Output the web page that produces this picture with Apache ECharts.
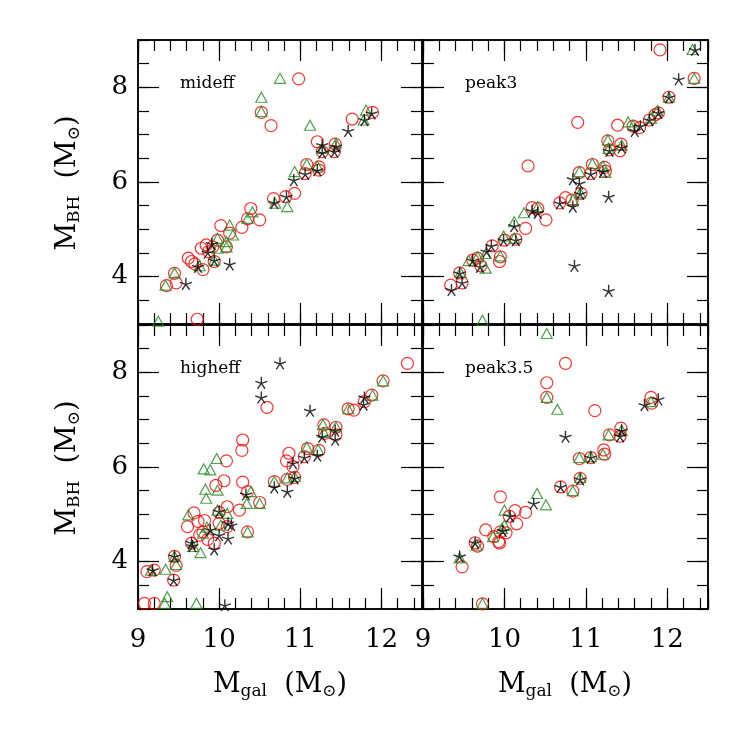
<!DOCTYPE html>
<html>
<head>
<meta charset="utf-8">
<script src="https://cdn.jsdelivr.net/npm/echarts@6/dist/echarts.min.js"></script>
<style>
  html, body { margin: 0; background: #fff; }
  #chart { width: 747px; height: 747px; }
</style>
</head>
<body>
<div id="chart"></div>
<script>
// panel names, tick labels
const panelNames = ['mideff', 'peak3', 'higheff', 'peak3.5'];
const xTickValues = [9, 10, 11, 12];
const yTickValues = [4, 6, 8];

// [log Mgal, log MBH]
const midCircles = [[10.98,8.18],[10.52,7.47],[10.64,7.19],[11.64,7.33],[11.89,7.47],[11.21,6.85],[11.27,6.64],[11.43,6.80],[11.42,6.64],[11.08,6.37],[11.06,6.18],[11.23,6.32],[11.23,6.25],[10.93,5.76],[10.82,5.69],[10.67,5.65],[10.39,5.44],[10.35,5.22],[10.50,5.20],[10.28,5.04],[10.02,5.08],[10.13,4.92],[9.98,4.77],[9.84,4.67],[9.78,4.60],[9.87,4.53],[9.92,4.63],[9.62,4.39],[9.66,4.32],[9.70,4.27],[9.80,4.15],[9.94,4.32],[9.45,4.07],[9.47,3.87],[9.35,3.81],[9.73,3.10],[10.09,4.63]];
const midTriangles = [[10.75,8.19],[10.52,7.79],[10.52,7.49],[11.12,7.20],[11.81,7.52],[11.78,7.31],[11.27,6.71],[11.44,6.82],[10.93,6.22],[11.08,6.38],[11.21,6.34],[10.84,5.48],[10.69,5.55],[10.41,5.37],[10.35,5.23],[10.13,5.09],[10.17,4.88],[10.09,4.74],[9.98,4.81],[9.98,4.60],[10.09,4.63],[9.94,4.35],[9.76,4.23],[9.45,4.08],[9.34,3.82],[9.25,3.06]];
const midStars = [[11.88,7.45],[11.79,7.31],[11.59,7.08],[11.27,6.78],[11.27,6.62],[11.42,6.64],[11.44,6.75],[11.06,6.17],[11.21,6.25],[10.92,6.04],[10.83,5.69],[10.68,5.56],[9.91,4.69],[9.86,4.51],[9.94,4.34],[9.74,4.21],[10.13,4.26],[9.59,3.85]];

const peak3Circles = [[11.91,8.79],[12.33,8.19],[12.02,7.79],[11.89,7.46],[11.85,7.42],[11.78,7.31],[11.66,7.15],[11.58,7.18],[11.39,7.20],[10.90,7.26],[11.27,6.87],[11.29,6.68],[11.43,6.80],[11.42,6.66],[11.08,6.37],[11.06,6.18],[11.23,6.31],[11.24,6.23],[10.92,6.20],[10.94,5.76],[10.83,5.62],[10.75,5.67],[10.68,5.56],[10.29,6.34],[10.34,5.46],[10.41,5.44],[10.51,5.20],[10.26,5.02],[10.14,4.79],[10.00,4.77],[9.85,4.65],[9.95,4.42],[9.94,4.32],[9.67,4.39],[9.61,4.35],[9.71,4.23],[9.45,4.08],[9.48,3.87],[9.34,3.82]];
const peak3Triangles = [[12.31,8.80],[12.33,8.19],[12.02,7.79],[11.88,7.51],[11.80,7.35],[11.52,7.27],[11.58,7.20],[11.27,6.89],[11.28,6.71],[11.44,6.78],[11.08,6.39],[11.21,6.34],[11.24,6.20],[10.92,6.22],[10.93,5.77],[10.84,5.63],[10.41,5.48],[10.24,5.35],[10.12,5.16],[9.99,4.86],[10.12,4.81],[9.95,4.44],[9.77,4.49],[9.56,4.34],[9.67,4.42],[9.77,4.18],[9.46,4.09],[9.73,3.08]];
const peak3Stars = [[12.34,8.79],[12.14,8.17],[12.02,7.79],[11.89,7.46],[11.78,7.31],[11.60,7.08],[11.67,7.18],[11.44,6.73],[11.29,6.66],[11.06,6.17],[11.21,6.22],[10.84,6.06],[10.92,5.97],[10.93,5.75],[10.84,5.48],[10.68,5.55],[11.28,5.69],[10.86,4.23],[11.28,3.70],[10.41,5.35],[10.34,5.39],[10.12,5.07],[10.14,4.77],[9.99,4.77],[9.84,4.65],[9.78,4.53],[9.61,4.34],[9.70,4.21],[9.45,4.07],[9.48,3.87],[9.35,3.72]];

const highCircles = [[12.32,8.19],[12.02,7.82],[11.88,7.52],[11.79,7.38],[11.66,7.20],[11.59,7.23],[10.59,7.26],[10.29,6.57],[10.28,6.35],[10.09,6.13],[10.29,5.68],[10.06,5.71],[9.96,5.61],[10.35,5.48],[10.50,5.25],[10.25,5.09],[10.10,5.16],[10.00,5.04],[9.69,5.03],[9.61,4.74],[9.74,4.85],[9.82,4.87],[9.80,4.63],[9.76,4.56],[9.86,4.47],[10.00,4.81],[10.10,4.74],[9.94,4.39],[9.66,4.39],[10.35,4.63],[11.29,6.89],[11.30,6.71],[11.44,6.84],[11.44,6.68],[11.09,6.39],[11.05,6.22],[11.23,6.35],[10.86,6.29],[10.83,6.13],[10.91,6.01],[10.93,5.78],[10.84,5.74],[10.68,5.69],[9.45,4.11],[9.47,3.92],[9.44,3.61],[9.20,3.82],[9.11,3.79],[9.08,3.12],[9.20,3.12]];
const highTriangles = [[12.02,7.82],[11.89,7.52],[11.59,7.23],[11.28,6.90],[11.29,6.73],[11.44,6.85],[11.08,6.42],[11.22,6.37],[10.68,5.70],[10.84,5.77],[10.93,5.80],[9.97,6.18],[9.81,5.96],[9.89,5.94],[9.83,5.53],[9.84,5.34],[9.98,5.51],[10.39,5.48],[10.34,5.23],[10.50,5.23],[9.98,5.09],[10.10,5.02],[9.62,4.99],[9.85,4.73],[9.80,4.60],[10.02,4.77],[9.68,4.32],[9.77,4.19],[10.35,4.63],[9.45,4.11],[9.47,3.94],[9.34,3.84],[9.16,3.82],[9.36,3.26],[9.33,3.12],[9.72,3.12]];
const highStars = [[10.75,8.19],[10.52,7.78],[10.52,7.47],[11.12,7.19],[11.79,7.47],[11.78,7.32],[11.27,6.64],[11.43,6.58],[11.43,6.77],[11.05,6.20],[11.21,6.24],[10.91,6.08],[10.93,5.76],[10.68,5.57],[10.84,5.48],[10.33,5.42],[10.00,5.06],[10.11,4.81],[10.15,4.77],[10.11,4.49],[9.89,4.67],[9.94,4.26],[10.00,4.56],[9.66,4.40],[9.67,4.33],[9.45,4.11],[9.44,3.61],[9.18,3.82],[10.07,3.08]];

const peak35Circles = [[10.75,8.19],[10.52,7.78],[10.52,7.47],[11.11,7.19],[11.80,7.47],[11.81,7.35],[11.43,6.82],[11.42,6.65],[11.29,6.68],[11.22,6.36],[11.23,6.27],[11.06,6.20],[10.92,6.18],[10.93,5.76],[10.84,5.49],[10.69,5.58],[9.95,5.37],[10.13,5.08],[10.26,5.04],[10.15,4.80],[10.06,4.96],[9.77,4.67],[9.95,4.63],[10.02,4.61],[9.87,4.53],[9.93,4.42],[9.94,4.39],[9.64,4.40],[9.67,4.33],[9.48,3.89],[9.73,3.11]];
const peak35Triangles = [[10.52,8.82],[10.52,7.47],[10.65,7.22],[11.80,7.38],[11.44,6.78],[11.28,6.68],[11.21,6.27],[10.92,6.20],[11.06,6.22],[10.84,5.50],[10.93,5.78],[10.40,5.44],[10.51,5.20],[10.00,5.09],[10.00,4.77],[9.97,4.70],[9.86,4.53],[9.66,4.35],[9.45,4.08],[9.73,3.12]];
const peak35Stars = [[10.75,6.64],[11.72,7.31],[11.89,7.43],[11.44,6.77],[11.42,6.65],[11.06,6.20],[10.93,5.74],[10.69,5.58],[10.36,5.23],[10.07,4.96],[9.98,4.65],[9.64,4.40],[9.45,4.11]];

const panelData = [
  [midCircles, midTriangles, midStars],
  [peak3Circles, peak3Triangles, peak3Stars],
  [highCircles, highTriangles, highStars],
  [peak35Circles, peak35Triangles, peak35Stars]
];

const font = 'DejaVu Serif';
const starPath = 'path://M10,10 L10,0 M10,10 L19.5,6.9 M10,10 L15.9,18.1 M10,10 L4.1,18.1 M10,10 L0.5,6.9';

// a 1px gap between panels keeps each grid's axes apart
const grids = [
  {left: 138, top: 40, width: 284, height: 284},
  {left: 423, top: 40, width: 285, height: 284},
  {left: 138, top: 325, width: 284, height: 284},
  {left: 423, top: 325, width: 285, height: 284}
];

function tick(len) {
  return {show: true, inside: true, length: len, lineStyle: {color: '#000', width: 1.2}};
}
function line() {
  return {show: true, onZero: false, lineStyle: {color: '#000', width: 1.5}};
}

const xAxis = [];
const yAxis = [];
grids.forEach((g, i) => {
  ['bottom', 'top'].forEach(pos => {
    xAxis.push({gridIndex: i, type: 'value', position: pos, min: 9, max: 12.5, interval: 1,
      splitLine: {show: false}, axisLine: line(), axisTick: tick(21),
      axisLabel: {show: pos === 'bottom' && i >= 2, fontSize: 26, fontFamily: font, color: '#000', margin: 18,
        formatter: v => xTickValues.indexOf(v) >= 0 ? String(v) : ''}});
    xAxis.push({gridIndex: i, type: 'value', position: pos, min: 9, max: 12.5, interval: 0.2,
      splitLine: {show: false}, axisLine: line(), axisTick: tick(11), axisLabel: {show: false}});
  });
  ['left', 'right'].forEach(pos => {
    const t = tick(21);
    t.customValues = yTickValues.slice();
    yAxis.push({gridIndex: i, type: 'value', position: pos, min: 3, max: 9,
      splitLine: {show: false}, axisLine: line(), axisTick: t,
      axisLabel: {show: pos === 'left' && i % 2 === 0, fontSize: 26, fontFamily: font, color: '#000', margin: 10,
        customValues: yTickValues.slice()}});
    yAxis.push({gridIndex: i, type: 'value', position: pos, min: 3, max: 9, interval: 0.5,
      splitLine: {show: false}, axisLine: line(), axisTick: tick(11), axisLabel: {show: false}});
  });
});

const markers = [
  {symbol: 'circle', size: 12, color: '#ff0000', width: 1.2},
  {symbol: 'triangle', size: [11, 10], color: '#228b22', width: 1.2},
  {symbol: starPath, size: 12, color: '#000', width: 1.4}
];

const series = [];
panelData.forEach((sets, i) => {
  sets.forEach((d, k) => {
    const m = markers[k];
    series.push({type: 'scatter', xAxisIndex: i * 4, yAxisIndex: i * 4, data: d,
      symbol: m.symbol, symbolSize: m.size,
      itemStyle: {color: 'transparent', borderColor: m.color, borderWidth: m.width}});
  });
});

const rich = {
  m: {fontSize: 27, fontFamily: font, color: '#000'},
  s: {fontSize: 17, fontFamily: font, color: '#000', verticalAlign: 'bottom', padding: [14, 0, 0, 0]}
};
const yTitle = '{m|M}{s|BH}{m|  (M}{s|⊙}{m|)}';
const xTitle = '{m|M}{s|gal}{m|  (M}{s|⊙}{m|)}';

const graphic = [];
panelNames.forEach((name, i) => {
  graphic.push({type: 'text', left: grids[i].left + 42, top: grids[i].top + 35,
    style: {text: name, fontSize: 17, fontFamily: font, fill: '#000'}});
});
[183, 468].forEach(cy => {
  graphic.push({type: 'text', x: 68, y: cy, rotation: Math.PI / 2,
    style: {text: yTitle, rich, align: 'center', verticalAlign: 'middle'}});
});
[280, 565].forEach(cx => {
  graphic.push({type: 'text', x: cx, y: 685,
    style: {text: xTitle, rich, align: 'center', verticalAlign: 'middle'}});
});

const chart = echarts.init(document.getElementById('chart'));
chart.setOption({
  animation: false,
  grid: grids,
  xAxis,
  yAxis,
  series,
  graphic
});
</script>
</body>
</html>
